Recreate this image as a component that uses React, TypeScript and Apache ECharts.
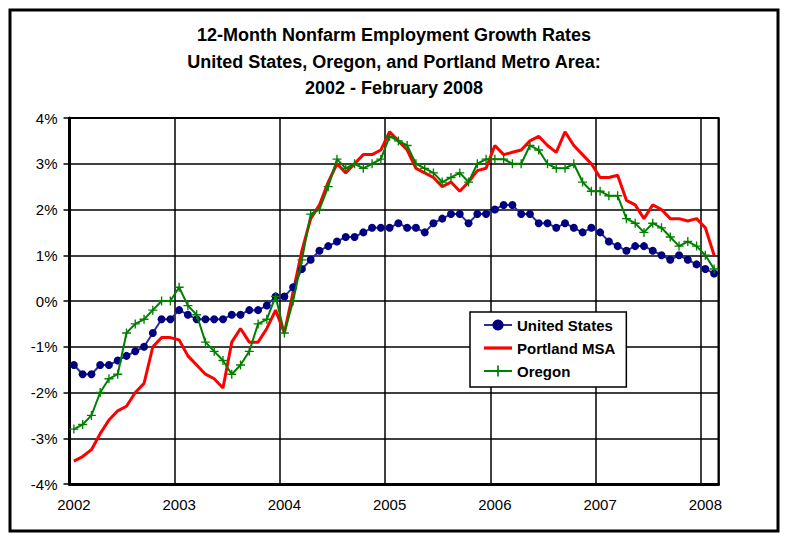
import React, { useEffect, useRef } from "react";
import * as echarts from "echarts";

const years = ["2002", "2003", "2004", "2005", "2006", "2007", "2008"];
const monthCodes = ["01", "02", "03", "04", "05", "06", "07", "08", "09", "10", "11", "12"];
const categories: string[] = [];
years.forEach((y) => {
  monthCodes.forEach((m) => {
    if (y === "2008" && Number(m) > 2) return;
    categories.push(`${y}-${m}`);
  });
});

const unitedStates = [
  -1.4, -1.6, -1.6, -1.4, -1.4, -1.3, -1.2, -1.1, -1.0, -0.7, -0.4, -0.4,
  -0.2, -0.3, -0.4, -0.4, -0.4, -0.4, -0.3, -0.3, -0.2, -0.2, -0.1, 0.1,
  0.1, 0.3, 0.7, 0.9, 1.1, 1.2, 1.3, 1.4, 1.4, 1.5, 1.6, 1.6,
  1.6, 1.7, 1.6, 1.6, 1.5, 1.7, 1.8, 1.9, 1.9, 1.7, 1.9, 1.9,
  2.0, 2.1, 2.1, 1.9, 1.9, 1.7, 1.7, 1.6, 1.7, 1.6, 1.5, 1.6,
  1.5, 1.3, 1.2, 1.1, 1.2, 1.2, 1.1, 1.0, 0.9, 1.0, 0.9, 0.8,
  0.7, 0.6,
];

const portlandMSA = [
  -3.5, -3.4, -3.25, -2.9, -2.6, -2.4, -2.3, -2.0, -1.8, -1.0, -0.8, -0.8,
  -0.85, -1.2, -1.4, -1.6, -1.7, -1.9, -0.9, -0.6, -0.9, -0.9, -0.6, -0.2,
  -0.7, 0.2, 1.1, 1.8, 2.1, 2.6, 3.0, 2.8, 3.0, 3.2, 3.2, 3.3,
  3.7, 3.5, 3.3, 2.9, 2.8, 2.7, 2.5, 2.6, 2.4, 2.6, 2.85, 2.9,
  3.4, 3.2, 3.25, 3.3, 3.5, 3.6, 3.4, 3.25, 3.7, 3.4, 3.2, 3.0,
  2.7, 2.7, 2.75, 2.2, 2.1, 1.8, 2.1, 2.0, 1.8, 1.8, 1.75, 1.8,
  1.6, 1.0,
];

const oregon = [
  -2.8, -2.7, -2.5, -2.0, -1.7, -1.6, -0.7, -0.5, -0.4, -0.2, 0.0, 0.0,
  0.3, -0.1, -0.3, -0.9, -1.1, -1.3, -1.6, -1.4, -1.1, -0.5, -0.4, 0.1,
  -0.7, 0.0, 0.9, 1.9, 2.0, 2.5, 3.1, 2.9, 3.0, 2.9, 3.0, 3.1,
  3.6, 3.5, 3.4, 3.0, 2.9, 2.8, 2.6, 2.7, 2.8, 2.6, 3.0, 3.1,
  3.1, 3.1, 3.0, 3.0, 3.4, 3.3, 3.0, 2.9, 2.9, 3.0, 2.6, 2.4,
  2.4, 2.3, 2.3, 1.8, 1.7, 1.5, 1.7, 1.6, 1.4, 1.2, 1.3, 1.2,
  1.0, 0.7,
];

const titleLines = [
  "12-Month Nonfarm Employment Growth Rates",
  "United States, Oregon, and Portland Metro Area:",
  "2002 - February 2008",
];

const FONT = "'Liberation Sans', Arial, Helvetica, sans-serif";
const PLUS = "path://M3.4,0H4.6V3.4H8V4.6H4.6V8H3.4V4.6H0V3.4H3.4Z";
const BAR = "path://M0,0H28V3.2H0Z";

export default function App() {
  const ref = useRef<HTMLDivElement>(null);

  useEffect(() => {
    if (!ref.current) return;
    const chart = echarts.init(ref.current, undefined, { renderer: "svg" });
    chart.setOption({
      animation: false,
      backgroundColor: "#ffffff",
      title: {
        text: titleLines.join("\n"),
        left: "center",
        top: 17,
        textStyle: {
          fontFamily: FONT,
          fontSize: 18,
          fontWeight: "bold",
          color: "#000",
          lineHeight: 26.5,
        },
      },
      graphic: [
        {
          type: "rect",
          shape: { x: 10, y: 10, width: 768, height: 521 },
          style: { fill: "none", stroke: "#000", lineWidth: 3 },
          silent: true,
        },
      ],
      legend: {
        orient: "vertical",
        left: 470,
        top: 312,
        padding: [5, 11, 8, 13],
        itemGap: 7,
        itemWidth: 28,
        itemHeight: 14,
        backgroundColor: "#fff",
        borderColor: "#000",
        borderWidth: 1.5,
        borderRadius: 0,
        textStyle: {
          fontFamily: FONT,
          fontSize: 15,
          fontWeight: "bold",
          color: "#000",
          lineHeight: 16,
        },
        data: [
          { name: "United States" },
          { name: "Portland MSA", icon: BAR },
          { name: "Oregon" },
        ],
      },
      grid: {
        left: 69.5,
        right: 69.5,
        top: 118,
        bottom: 51,
        show: true,
        borderColor: "#000",
        borderWidth: 2,
        backgroundColor: "#fff",
      },
      xAxis: {
        type: "category",
        data: categories,
        boundaryGap: true,
        axisLine: { onZero: false, lineStyle: { color: "#000", width: 3 } },
        axisTick: { show: false },
        axisLabel: {
          interval: 11,
          margin: 13,
          fontFamily: FONT,
          fontSize: 15,
          color: "#000",
          formatter: (v: string) => v.slice(0, 4),
        },
        splitLine: {
          show: true,
          interval: 11,
          lineStyle: { color: "#000", width: 1.5 },
        },
      },
      yAxis: {
        type: "value",
        min: -4,
        max: 4,
        interval: 1,
        axisLine: { show: true, lineStyle: { color: "#000", width: 3 } },
        axisTick: { show: true, length: 6, lineStyle: { color: "#000", width: 1.5 } },
        axisLabel: {
          margin: 12,
          fontFamily: FONT,
          fontSize: 15,
          color: "#000",
          formatter: "{value}%",
        },
        splitLine: { show: true, lineStyle: { color: "#000", width: 1.5 } },
      },
      series: [
        {
          name: "United States",
          type: "line",
          data: unitedStates,
          symbol: "circle",
          symbolSize: 8,
          showAllSymbol: true,
          lineStyle: { color: "#2e2e96", width: 2 },
          itemStyle: { color: "#000080" },
          z: 4,
        },
        {
          name: "Portland MSA",
          type: "line",
          data: portlandMSA,
          symbol: "none",
          lineStyle: { color: "#ff0000", width: 3 },
          itemStyle: { color: "#ff0000" },
          z: 3,
        },
        {
          name: "Oregon",
          type: "line",
          data: oregon,
          symbol: PLUS,
          symbolSize: 9,
          showAllSymbol: true,
          lineStyle: { color: "#008000", width: 2 },
          itemStyle: { color: "#008000" },
          z: 5,
        },
      ],
    });
    return () => chart.dispose();
  }, []);

  return (
    <div
      ref={ref}
      style={{ position: "fixed", left: 0, top: 0, width: 788, height: 535 }}
    />
  );
}
